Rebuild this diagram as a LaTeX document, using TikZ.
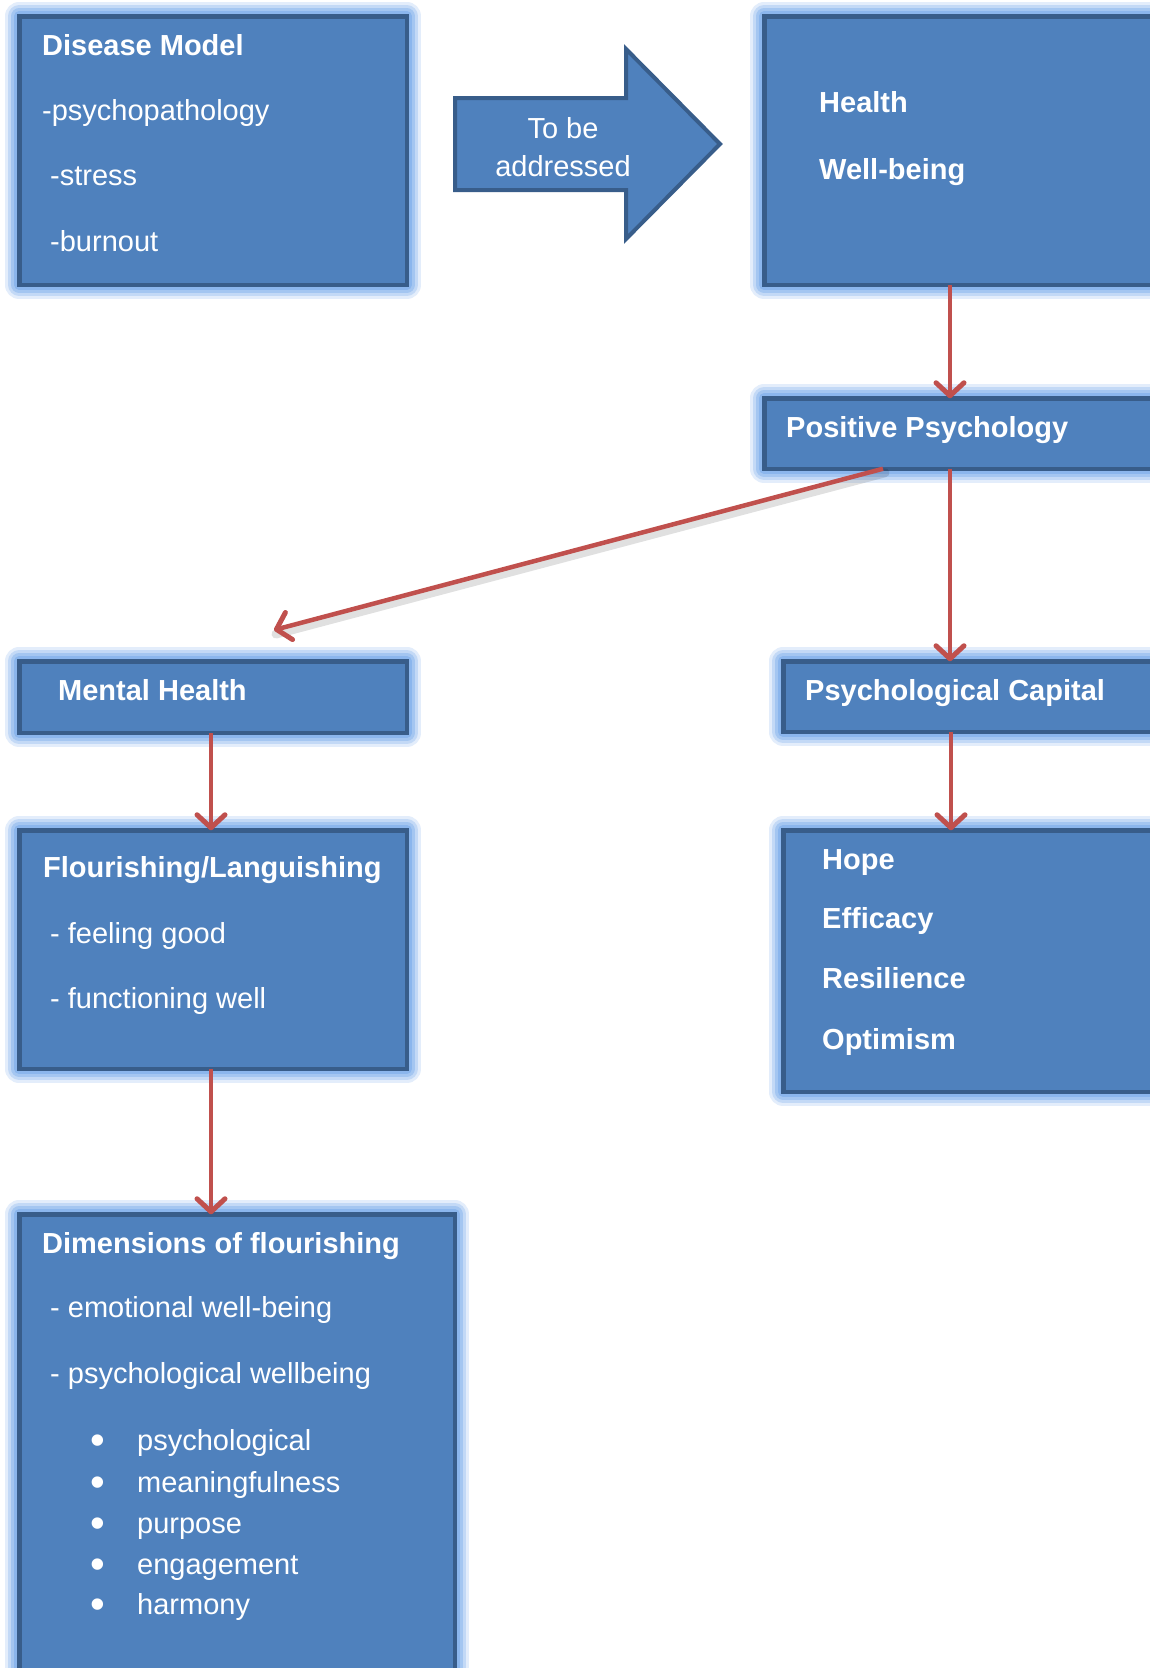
\documentclass[tikz,border=0pt]{standalone}
\usepackage{fontspec}
\setmainfont{Liberation Sans}
\usetikzlibrary{arrows.meta}

\definecolor{boxfill}{RGB}{79,129,189}
\definecolor{boxline}{RGB}{56,93,138}
\definecolor{glowc}{RGB}{115,168,235}
\definecolor{arrowred}{RGB}{192,80,77}

\newcommand{\blt}{\makebox[47pt][l]{\raisebox{-4pt}{\fontsize{42}{42}\selectfont •}}}

\tikzset{
  box/.style={rectangle, draw=boxline, fill=boxfill, line width=4.5pt,
    inner sep=0pt, outer sep=0pt, anchor=north west,
    preaction={draw=glowc, line width=28pt, opacity=0.2, line join=round},
    preaction={draw=glowc, line width=22pt, opacity=0.28, line join=round},
    preaction={draw=glowc, line width=16pt, opacity=0.38, line join=round},
    preaction={draw=glowc, line width=10pt, opacity=0.5, line join=round}},
  hd/.style={anchor=base west, inner sep=0pt, text=white,
    font=\bfseries\fontsize{29}{35}\selectfont},
  itm/.style={anchor=base west, inner sep=0pt, text=white,
    font=\fontsize{29}{35}\selectfont},
  conn/.style={draw=arrowred, line width=4.5pt,
    -{Straight Barb[length=13pt, width=28pt, line width=5pt, line cap=round, line join=round]}},
  connshadow/.style={draw=black, opacity=0.12, line width=9pt, line cap=round,
    transform canvas={shift={(2pt,-4pt)}}},
  blockarrow/.style={draw=boxline, fill=boxfill, line width=4pt, line join=miter}
}

\begin{document}
\begin{tikzpicture}[x=1pt, y=-1pt]
  \useasboundingbox (0,0) rectangle (1150,1668);
  \fill[white] (0,0) rectangle (1150,1668);
  \clip (0,0) rectangle (1150,1668);

  % boxes
  \node[box, minimum width=387.5pt, minimum height=268.5pt] (disease) at (19.25,16.25) {};
  \node[box, minimum width=410pt,   minimum height=268.5pt] (health)  at (764.25,16.25) {};
  \node[box, minimum width=410pt,   minimum height=70.5pt]  (pospsy)  at (764.25,398.25) {};
  \node[box, minimum width=387.5pt, minimum height=71.5pt]  (mental)  at (19.25,661.25) {};
  \node[box, minimum width=390pt,   minimum height=70.5pt]  (psycap)  at (783.25,661.25) {};
  \node[box, minimum width=387.5pt, minimum height=238.5pt] (flour)   at (19.25,830.25) {};
  \node[box, minimum width=390pt,   minimum height=261.5pt] (hope)    at (783.25,830.25) {};
  \node[box, minimum width=435.5pt, minimum height=500pt]   (dims)    at (19.25,1214.25) {};

  % block arrow between the two upper boxes
  \draw[blockarrow] (455,98) -- (626,98) -- (626,49) -- (720,144) -- (626,239)
    -- (626,190) -- (455,190) -- cycle;
  \node[itm, anchor=center, align=center, font=\fontsize{29}{38}\selectfont]
    (addr) at (563,147.5) {To be\\addressed};

  % texts
  \node[hd]  (t-dis)  at (42,55)  {Disease Model};
  \node[itm] (t-psp)  at (42,120) {-psychopathology};
  \node[itm] (t-str)  at (50,185) {-stress};
  \node[itm] (t-bur)  at (50,251) {-burnout};

  \node[hd]  (t-hea)  at (819,112) {Health};
  \node[hd]  (t-wel)  at (819,179) {Well-being};

  \node[hd]  (t-pos)  at (786,437) {Positive Psychology};

  \node[hd]  (t-men)  at (58,700)  {Mental Health};
  \node[hd]  (t-cap)  at (805,700) {Psychological Capital};

  \node[hd]  (t-flo)  at (43,877)  {Flourishing/Languishing};
  \node[itm] (t-fee)  at (50,943)  {- feeling good};
  \node[itm] (t-fun)  at (50,1008) {- functioning well};

  \node[hd]  (t-hop)  at (822,869)  {Hope};
  \node[hd]  (t-eff)  at (822,928)  {Efficacy};
  \node[hd]  (t-res)  at (822,988)  {Resilience};
  \node[hd]  (t-opt)  at (822,1049) {Optimism};

  \node[hd]  (t-dim)  at (42,1253) {Dimensions of flourishing};
  \node[itm] (t-emo)  at (50,1317) {- emotional well-being};
  \node[itm] (t-pwb)  at (50,1383) {- psychological wellbeing};
  \node[itm] (b-1)    at (90,1450) {\blt psychological};
  \node[itm] (b-2)    at (90,1492) {\blt meaningfulness};
  \node[itm] (b-3)    at (90,1533) {\blt purpose};
  \node[itm] (b-4)    at (90,1574) {\blt engagement};
  \node[itm] (b-5)    at (90,1614) {\blt harmony};

  % connectors
  \coordinate (mhend) at (274,630);
  \draw[connshadow] ([xshift=118.75pt]pospsy.south west) -- (mhend);
  \draw[conn] ([xshift=118.75pt]pospsy.south west) -- (mhend);
  \draw[conn] ([xshift=185.75pt]health.south west) -- ([xshift=185.75pt]pospsy.north west);
  \draw[conn] ([xshift=185.75pt]pospsy.south west) -- ([xshift=166.75pt]psycap.north west);
  \draw[conn] ([xshift=167.75pt]psycap.south west) -- ([xshift=167.75pt]hope.north west);
  \draw[conn] ([xshift=191.75pt]mental.south west) -- ([xshift=191.75pt]flour.north west);
  \draw[conn] ([xshift=191.75pt]flour.south west) -- ([xshift=191.75pt]dims.north west);
\end{tikzpicture}
\end{document}
